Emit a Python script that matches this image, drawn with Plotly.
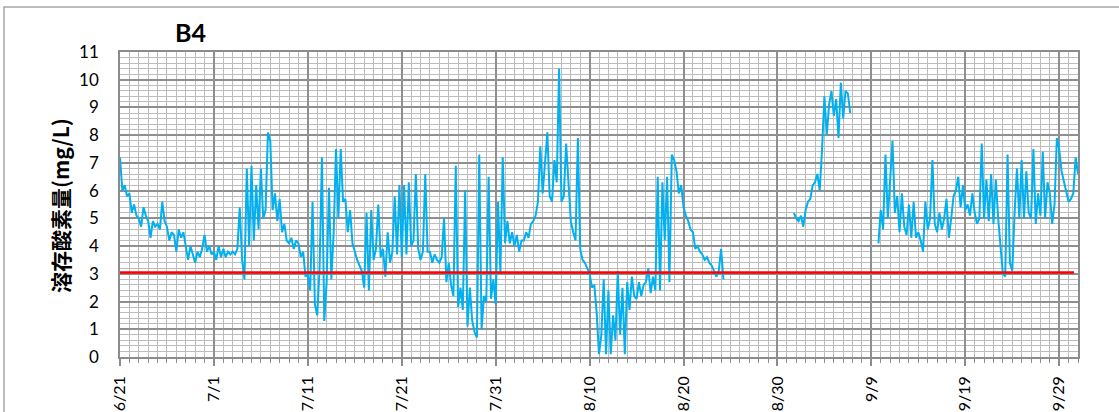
import pandas as pd
import plotly.graph_objects as go

# ---- data (6-hourly readings, 4 per day, None = no data) ----
start_date = "2013-06-21"
do_values = [
    7.2, 6.0, 6.2, 5.8,   # 6/21
    5.9, 5.2, 5.5, 5.1,
    5.0, 4.7, 5.4, 5.1,
    4.9, 4.3, 4.9, 4.7,
    4.8, 4.6, 5.6, 4.9,
    4.7, 4.2, 4.5, 4.4,
    3.8, 4.6, 4.3, 4.5,
    4.0, 3.5, 4.0, 3.7,
    3.4, 3.8, 3.6, 3.9,
    4.4, 3.8, 4.0, 3.7,
    3.8, 3.5, 4.0, 3.6,   # 7/1
    3.9, 3.6, 3.8, 3.7,
    3.8, 3.7, 3.9, 5.4,
    3.5, 2.8, 6.8, 4.0,
    6.9, 4.2, 6.2, 4.6,
    6.8, 5.0, 5.3, 8.1,
    7.8, 5.3, 5.9, 4.9,
    5.7, 4.5, 4.8, 4.2,
    4.1, 4.3, 3.9, 4.2,
    4.1, 3.6, 3.8, 2.9,
    3.0, 2.4, 5.6, 1.9,   # 7/11
    1.5, 3.2, 7.2, 1.3,
    2.7, 6.1, 2.8, 4.5,
    7.5, 5.0, 7.5, 5.6,
    5.7, 4.5, 5.3, 4.1,
    3.8, 3.5, 3.3, 3.1,
    2.5, 5.2, 2.4, 5.3,
    3.5, 3.9, 5.5, 3.6,
    3.9, 2.9, 4.5, 3.4,
    3.8, 5.8, 3.7, 6.2,
    3.6, 6.2, 3.7, 6.3,   # 7/21
    4.0, 4.2, 6.6, 3.9,
    3.5, 3.8, 6.6, 3.8,
    3.8, 3.4, 3.7, 3.5,
    3.4, 3.6, 5.0, 2.7,
    3.4, 2.6, 2.2, 6.9,
    1.8, 2.5, 1.7, 6.0,
    1.1, 2.5, 1.3, 0.9,
    0.7, 7.3, 1.0, 2.2,
    2.0, 6.5, 2.1, 2.8,
    1.9, 5.6, 3.0, 7.2,   # 7/31
    4.1, 4.9, 4.1, 4.5,
    4.0, 4.4, 3.8, 4.2,
    4.2, 4.5, 4.3, 4.8,
    4.9, 5.1, 5.6, 7.6,
    5.9, 7.0, 8.1, 5.8,
    5.6, 7.1, 6.3, 10.4,
    5.6, 5.8, 7.7, 6.3,
    4.9, 4.5, 4.2, 7.9,
    3.9, 3.5, 3.4, 3.2,
    3.0, 2.5, 2.6, 1.6,   # 8/10
    0.1, 0.8, 2.8, 0.1,
    2.4, 0.1, 1.5, 0.6,
    3.1, 0.8, 2.5, 0.1,
    2.7, 1.7, 2.9, 2.2,
    2.1, 2.7, 2.2, 2.6,
    2.7, 3.2, 2.3, 2.9,
    2.4, 6.5, 2.4, 6.3,
    4.2, 6.5, 2.7, 7.3,
    7.1, 6.7, 5.9, 6.2,
    5.4, 5.1, 4.9, 4.6,   # 8/20
    4.5, 3.9, 4.0, 3.8,
    3.7, 3.5, 3.6, 3.4,
    3.3, 3.1, 2.9, 3.1,
    3.9, 2.8, None, None,
    None, None, None, None,
    None, None, None, None,
    None, None, None, None,
    None, None, None, None,
    None, None, None, None,
    None, None, None, None,   # 8/30
    None, None, None, 5.2,
    5.0, 4.9, 5.1, 4.7,
    5.3, 5.6, 5.7, 6.2,
    6.3, 6.6, 6.0, 7.5,
    9.4, 8.0, 9.1, 9.6,
    8.7, 9.3, 7.9, 9.9,
    8.6, 9.6, 9.5, 8.8,
    None, None, None, None,
    None, None, None, None,
    None, None, None, 4.1,   # 9/9
    5.3, 4.6, 7.3, 5.0,
    6.5, 7.8, 5.2, 5.8,
    4.5, 5.9, 4.7, 4.4,
    5.5, 4.3, 5.6, 4.3,
    4.5, 4.2, 3.8, 5.6,
    4.6, 5.0, 7.1, 4.8,
    4.5, 5.2, 4.6, 5.0,
    5.7, 4.3, 5.0, 5.8,
    6.0, 6.5, 5.4, 6.2,
    5.3, 5.5, 5.1, 5.9,   # 9/19
    5.2, 4.8, 5.0, 7.7,
    5.0, 6.4, 4.9, 6.6,
    4.8, 6.4, 5.0, 3.9,
    3.0, 2.9, 7.3, 3.4,
    3.1, 5.2, 6.8, 5.0,
    7.1, 5.0, 6.7, 5.2,
    5.0, 7.5, 4.8, 5.9,
    5.1, 7.4, 5.0, 6.3,
    5.9, 4.8, 5.5, 7.9,
    7.5, 6.7, 6.3, 5.9,   # 9/29
    5.6, 5.7, 5.9, 7.2,
    6.6,
]
threshold_dates = ["2013-06-21 00:00", "2013-09-30 14:00"]
threshold_values = [3.05, 3.05]
y_ticks = list(range(0, 12))
title_text = "B4"
y_title = "溶存酸素量(mg/L)"

times = pd.date_range(start_date, periods=len(do_values), freq="6h")

fig = go.Figure()
fig.add_trace(go.Scatter(x=times, y=do_values, mode="lines",
                         line=dict(color="#00B0F0", width=2),
                         connectgaps=False, showlegend=False))
fig.add_trace(go.Scatter(x=threshold_dates, y=threshold_values, mode="lines",
                         line=dict(color="#FF0000", width=2.5),
                         showlegend=False))

W, H = 1119, 412
L, R, T, B = 120, 41, 52, 55
pw, ph = W - L - R, H - T - B

def px_x(x):  # page x -> paper
    return (x - L) / pw

def px_y(y):  # page y -> paper
    return (H - B - y) / ph

DAY = 86400000
fig.update_layout(
    width=W, height=H,
    margin=dict(l=L, r=R, t=T, b=B, autoexpand=False),
    paper_bgcolor="white", plot_bgcolor="white",
    font=dict(family="Lato, Liberation Sans, sans-serif", size=16, color="#000"),
    xaxis=dict(
        type="date", range=["2013-06-21", "2013-10-01"],
        tick0="2013-06-21", dtick=10 * DAY, tickformat="%-m/%-d",
        tickangle=-90, ticks="outside", ticklen=7, tickwidth=1.5, tickcolor="#8c8c8c",
        showgrid=True, gridcolor="#8f8f8f", gridwidth=1.5,
        showline=True, linecolor="#8c8c8c", linewidth=1.5, mirror=True,
        zeroline=False, ticklabelstandoff=4,
        tickfont=dict(size=16),
        minor=dict(tick0="2013-06-21", dtick=DAY, showgrid=True,
                   gridcolor="#bcbcbc", gridwidth=1.3,
                   ticks="outside", ticklen=4, tickcolor="#8c8c8c", tickwidth=1),
    ),
    yaxis=dict(
        range=[0, 11], tickmode="array", tickvals=y_ticks,
        ticks="", showgrid=True, gridcolor="#8f8f8f", gridwidth=1.5,
        showline=True, linecolor="#8c8c8c", linewidth=1.5, mirror=True,
        zeroline=False, ticklabelstandoff=16,
        tickfont=dict(size=17),
        minor=dict(dtick=0.2, showgrid=True, gridcolor="#bcbcbc", gridwidth=1.3),
    ),
    annotations=[
        dict(text="<b>" + title_text + "</b>", xref="paper", yref="paper",
             x=px_x(190), y=px_y(32), xanchor="center", yanchor="middle",
             showarrow=False, font=dict(size=25, family="Lato, Liberation Sans, sans-serif")),
        dict(text="<b>" + y_title + "</b>", xref="paper", yref="paper",
             x=px_x(60), y=px_y(206), xanchor="center", yanchor="middle", textangle=-90,
             showarrow=False, font=dict(size=21, family="Noto Sans CJK JP, sans-serif")),
    ],
    shapes=[
        dict(type="rect", xref="paper", yref="paper",
             x0=px_x(4), x1=px_x(1140),
             y0=px_y(440), y1=px_y(7),
             line=dict(color="#a6a6a6", width=1.5), fillcolor="rgba(0,0,0,0)", layer="below"),
    ],
)

# remove the browser's default 8px body margin so the figure fills the window
fig.write_html("out.html", config={"displayModeBar": False},
               post_script="document.body.style.margin='0px';")
